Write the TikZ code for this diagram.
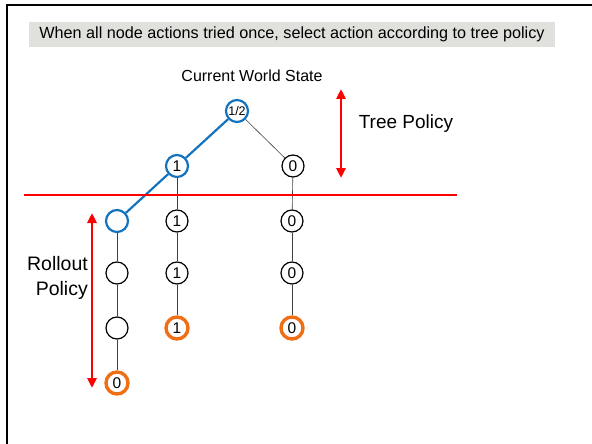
\documentclass[tikz,border=0pt]{standalone}
\usepackage{fontspec}
\setmainfont{Liberation Sans}
\usetikzlibrary{arrows.meta}
\definecolor{selblue}{RGB}{20,115,190}
\definecolor{termorange}{RGB}{240,110,20}
\definecolor{bargray}{RGB}{224,224,220}

\begin{document}
\begin{tikzpicture}[x=1pt, y=-1pt, every node/.style={font=\fontsize{15.5}{17}\selectfont},
    st/.style={circle, draw, line width=1.2pt, minimum size=22pt, inner sep=0pt},
    sel/.style={st, draw=selblue, line width=2.2pt},
    term/.style={st, draw=termorange, line width=3.4pt},
    edge/.style={draw=black!75, line width=0.6pt},
    path/.style={draw=selblue, line width=2.2pt},
    span/.style={red, line width=2.6pt, {Triangle[width=9pt,length=10pt]}-{Triangle[width=9pt,length=10pt]}}]
    \useasboundingbox (0,0) rectangle (592,444);

    % slide frame and heading
    \draw[line width=2pt] (7,444) -- (7,5) -- (592,5);
    \node[fill=bargray, minimum width=526pt, minimum height=25pt, inner sep=0pt,
          font=\fontsize{16.2}{18}\selectfont] (head) at (292,34.5)
        {When all node actions tried once, select action according to tree policy};

    % tree part
    \node[font=\fontsize{16}{18}\selectfont] (world) at (252,76) {Current World State};
    \node[sel, font=\fontsize{12.5}{13}\selectfont] (root) at (237,111) {1/2};
    \node[sel] (a1) at (177,166) {1};
    \node[st] (b1) at (293,166) {0};

    % rollout part
    \node[sel] (a2) at (117,221) {};
    \node[st] (a3) at (117,273) {};
    \node[st] (a4) at (117,328) {};
    \node[term] (a5) at (117,383) {0};
    \node[st] (c2) at (177,221) {1};
    \node[st] (c3) at (177,273) {1};
    \node[term] (c4) at (177,328) {1};
    \node[st] (b2) at (292,221) {0};
    \node[st] (b3) at (292,273) {0};
    \node[term] (b4) at (292,328) {0};

    \draw[edge] (root) -- (b1);
    \foreach \u/\v in {a2/a3, a3/a4, a4/a5, a1/c2, c2/c3, c3/c4, b1/b2, b2/b3, b3/b4}
        \draw[edge] (\u) -- (\v);
    \draw[path] (root) -- (a1);
    \draw[path] (a1) -- (a2);

    % boundary between the two policies
    \coordinate (cutL) at (24,195);
    \coordinate (cutR) at (457,195);
    \draw[red, line width=1.3pt] (cutL) -- (cutR);

    \coordinate (treeTop) at (341,89);
    \coordinate (treeBot) at (341,178);
    \draw[span] (treeTop) -- (treeBot);
    \node[font=\fontsize{19}{22}\selectfont] (treeLbl) at (406,124) {Tree Policy};

    \coordinate (rollTop) at (92,213);
    \coordinate (rollBot) at (92,388);
    \draw[span] (rollTop) -- (rollBot);
    \node[font=\fontsize{19.5}{25}\selectfont, align=right, anchor=east, inner sep=0pt] (rollLbl) at (88,278)
        {Rollout\\Policy};
\end{tikzpicture}
\end{document}
